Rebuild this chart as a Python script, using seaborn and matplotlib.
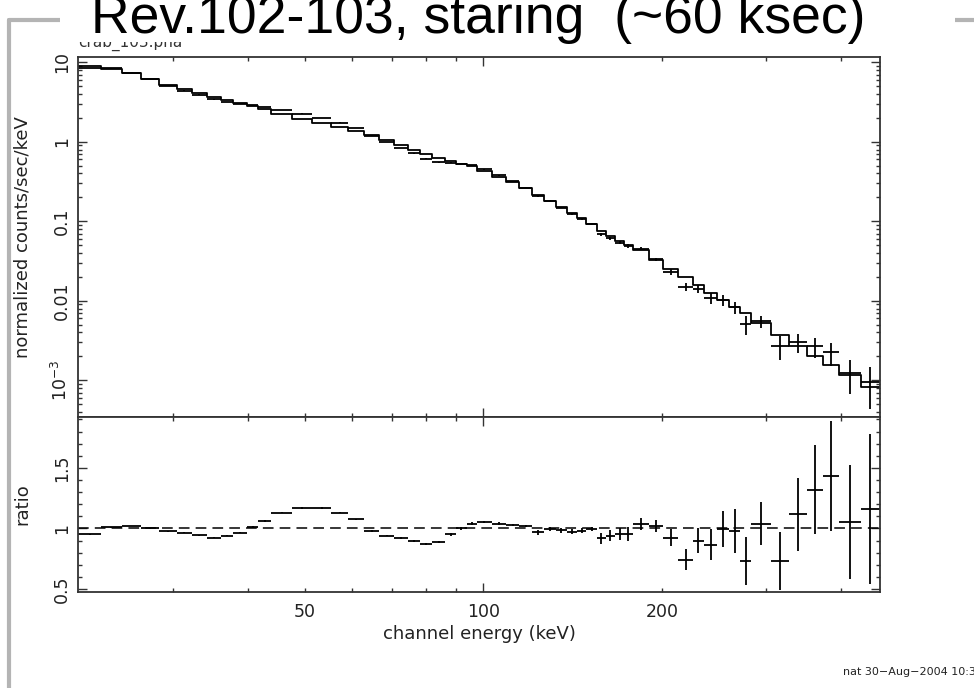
import numpy as np
import pandas as pd
import matplotlib
matplotlib.use("Agg")
import matplotlib.pyplot as plt
import seaborn as sns
from matplotlib.patches import Rectangle
from matplotlib.lines import Line2D

# ---------------- data ----------------
# channel bin edges (keV)
bin_edges = [20.71, 22.62, 24.54, 26.45, 28.40, 30.38, 32.20, 34.14, 36.05, 37.86,
             39.87, 41.71, 43.83, 47.54, 51.38, 55.33, 59.16, 62.95, 66.72, 70.64,
             74.51, 78.24, 81.98, 86.10, 89.87, 93.70, 97.39, 103.2, 109.0, 114.9,
             120.9, 126.5, 132.4, 138.2, 143.6, 149.1, 155.2, 160.7, 166.8, 172.5,
             178.5, 190.1, 201.0, 213.1, 225.3, 235.6, 247.6, 259.1, 271.1, 282.5,
             305.0, 328.0, 350.8, 374.1, 397.6, 432.5, 466.3]
# folded model (normalized counts/sec/keV)
model_vals = [8.98, 8.3, 7.28, 6.11, 5.14, 4.57, 4.15, 3.69, 3.36, 3.07,
              2.85, 2.59, 2.22, 1.94, 1.71, 1.54, 1.38, 1.22, 1.05, 0.912,
              0.797, 0.703, 0.62, 0.573, 0.526, 0.492, 0.43, 0.364, 0.312, 0.26,
              0.216, 0.182, 0.151, 0.127, 0.109, 0.0933, 0.0748, 0.0653, 0.0565, 0.0508,
              0.0435, 0.0326, 0.0249, 0.0201, 0.0157, 0.0124, 0.0102, 0.00843, 0.00696, 0.0053,
              0.00371, 0.00272, 0.00202, 0.00156, 0.00117, 0.000816]
# data / model ratio
ratio_vals = [0.95, 1.01, 1.02, 1.00, 0.975, 0.965, 0.945, 0.925, 0.94, 0.965,
              1.01, 1.06, 1.13, 1.17, 1.17, 1.13, 1.075, 0.98, 0.94, 0.92,
              0.897, 0.87, 0.89, 0.95, 1.00, 1.04, 1.05, 1.04, 1.028, 1.02,
              0.967, 0.995, 0.983, 0.972, 0.98, 0.995, 0.917, 0.94, 0.955, 0.955,
              1.04, 1.02, 0.925, 0.742, 0.90, 0.867, 0.995, 0.978, 0.73, 1.04,
              0.73, 1.117, 1.32, 1.436, 1.05, 1.158]
ratio_errs = [0.004, 0.004, 0.004, 0.004, 0.004, 0.004, 0.004, 0.004, 0.004, 0.004,
              0.006, 0.006, 0.006, 0.006, 0.006, 0.006, 0.006, 0.006, 0.006, 0.006,
              0.009, 0.009, 0.009, 0.009, 0.009, 0.009, 0.009, 0.012, 0.012, 0.012,
              0.02, 0.02, 0.02, 0.02, 0.02, 0.02, 0.045, 0.046, 0.05, 0.055,
              0.05, 0.05, 0.073, 0.087, 0.10, 0.13, 0.15, 0.18, 0.20, 0.18,
              0.24, 0.30, 0.37, 0.455, 0.47, 0.62]

title_text = "Rev.102-103, staring  (~60 ksec)"
file_text = "crab_103.pha"
stamp_text = "nat 30\u2212Aug\u22122004 10:3"

# ---------------- derived tables ----------------
edges = np.array(bin_edges)
lo, hi = edges[:-1], edges[1:]
xc = 0.5 * (lo + hi)
model = np.array(model_vals)
ratio = np.array(ratio_vals)
rerr = np.array(ratio_errs)
data = model * ratio
derr = model * rerr

step_df = pd.DataFrame({"E": edges, "model": np.append(model, model[-1])})
cross_df = pd.DataFrame({"E": xc, "lo": lo, "hi": hi, "data": data, "derr": derr,
                         "ratio": ratio, "rerr": rerr})

# ---------------- style ----------------
sns.set_theme(style="white")
plt.rcParams["font.family"] = ["DejaVu Sans"]
plt.rcParams["axes.edgecolor"] = "#333333"
plt.rcParams["text.color"] = "#222222"
plt.rcParams["axes.labelcolor"] = "#222222"
plt.rcParams["xtick.color"] = "#333333"
plt.rcParams["ytick.color"] = "#333333"
plt.rcParams["xtick.labelcolor"] = "#222222"
plt.rcParams["ytick.labelcolor"] = "#222222"

FS_TICK = 12.5
FS_LAB = 13
fig = plt.figure(figsize=(9.74, 6.88), dpi=100)
L, W = 78 / 974, 802 / 974
ax1 = fig.add_axes([L, 1 - 417 / 688, W, 360 / 688])
ax2 = fig.add_axes([L, 1 - 592 / 688, W, 175 / 688], sharex=ax1)

for ax in (ax1, ax2):
    ax.set_facecolor("white")
    ax.set_xscale("log")
    for s in ax.spines.values():
        s.set_linewidth(1.3)
        s.set_color("#333333")
ax1.set_yscale("log")

# ---------------- top panel ----------------
sns.lineplot(data=step_df, x="E", y="model", ax=ax1, drawstyle="steps-post",
             color="black", lw=1.3, estimator=None, sort=False)
ax1.errorbar(cross_df["E"], cross_df["data"],
             xerr=[cross_df["E"] - cross_df["lo"], cross_df["hi"] - cross_df["E"]],
             yerr=cross_df["derr"], fmt="none", ecolor="black", elinewidth=1.3, capsize=0)

# ---------------- ratio panel ----------------
ax2.axhline(1.0, color="black", lw=1.1, ls=(0, (7, 4)))
ax2.errorbar(cross_df["E"], cross_df["ratio"],
             xerr=[cross_df["E"] - cross_df["lo"], cross_df["hi"] - cross_df["E"]],
             yerr=cross_df["rerr"], fmt="none", ecolor="black", elinewidth=1.3, capsize=0)

# ---------------- axes / ticks ----------------
ax1.set_xlim(20.71, 466.3)
ax1.set_ylim(3.455e-4, 11.66)
ax2.set_ylim(0.475, 1.92)

xmin = [30, 40, 50, 60, 70, 80, 90, 200, 300, 400]
xmin_lbl = ["", "", "50", "", "", "", "", "200", "", ""]
ax2.set_xticks([100])
ax2.set_xticklabels(["100"])
ax2.set_xticks(xmin, minor=True)
ax2.set_xticklabels(xmin_lbl, minor=True)

ymaj = [1e-3, 1e-2, 1e-1, 1, 10]
ax1.set_yticks(ymaj)
ax1.set_yticklabels([r"$10^{-3}$", "0.01", "0.1", "1", "10"])
ymin = [m * d for d in [1e-4, 1e-3, 1e-2, 1e-1, 1] for m in range(2, 10)]
ax1.set_yticks([v for v in ymin if 3.455e-4 <= v <= 11.66], minor=True)
ax1.set_yticklabels([], minor=True)

ax2.set_yticks([0.5, 1.0, 1.5])
ax2.set_yticklabels(["0.5", "1", "1.5"])
ax2.set_yticks([0.6, 0.7, 0.8, 0.9, 1.1, 1.2, 1.3, 1.4, 1.6, 1.7, 1.8, 1.9], minor=True)

for ax in (ax1, ax2):
    ax.tick_params(which="both", direction="in", top=True, right=True,
                   bottom=True, left=True, width=1.0, labelsize=FS_TICK)
    ax.tick_params(which="major", length=6.5)
    ax.tick_params(which="minor", length=3.2)
    ax.tick_params(axis="y", which="major", labelrotation=90, pad=5)
    ax.tick_params(axis="x", which="both", pad=8)
    for lbl in ax.get_yticklabels():
        lbl.set_va("center")
ax1.tick_params(axis="x", which="both", labelbottom=False)

ax1.set_xlabel("")
ax1.set_ylabel("normalized counts/sec/keV", fontsize=FS_LAB)
ax1.yaxis.set_label_coords(-0.058, 0.5)
ax2.set_ylabel("ratio", fontsize=FS_LAB)
ax2.yaxis.set_label_coords(-0.058, 0.5)
ax2.set_xlabel("channel energy (keV)", fontsize=FS_LAB)
ax2.xaxis.set_label_coords(0.5, -0.19)

# ---------------- figure decorations ----------------
fig.add_artist(Line2D([9 / 974, 9 / 974], [0, 1 - 20 / 688], transform=fig.transFigure,
                      color="#b4b4b4", lw=3, zorder=1))
fig.add_artist(Line2D([9 / 974, 1.0], [1 - 20 / 688, 1 - 20 / 688], transform=fig.transFigure,
                      color="#b4b4b4", lw=3, zorder=1))
fig.text(78 / 974, 1 - 47 / 688, file_text, fontsize=11, ha="left", va="baseline",
         color="#333333", zorder=2)
fig.add_artist(Rectangle((60 / 974, 1 - 42 / 688), (955 - 60) / 974, 42 / 688 + 0.01,
                         transform=fig.transFigure, facecolor="white",
                         edgecolor="none", zorder=3))
fig.text(478 / 974, 1 - 33 / 688, title_text, fontsize=38.5, ha="center", va="baseline",
         family=["Liberation Sans"], color="black", zorder=4)
fig.text(843 / 974, 1 - 672 / 688, stamp_text, fontsize=8, ha="left", va="center",
         color="#222222", zorder=4)

fig.savefig("out.png", dpi=100, facecolor="white")
